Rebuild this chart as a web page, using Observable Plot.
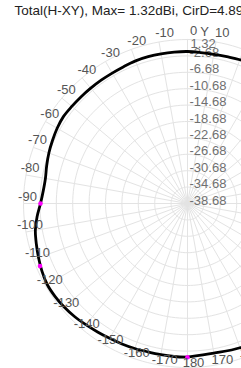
<!DOCTYPE html>
<html><head><meta charset="utf-8">
<script src="https://cdn.jsdelivr.net/npm/d3@7"></script>
<script src="https://cdn.jsdelivr.net/npm/@observablehq/plot@0.6"></script>
<style>html,body{margin:0;padding:0;background:#fff;} svg{display:block;}</style>
</head><body><div id="chart"></div>
<script>
const titleText = "Total(H-XY), Max= 1.32dBi, CirD=4.89";
const axisName = "Y";
// pattern angles (deg, 0 = +Y, negative = counter-clockwise) and gains (dBi)
const angles = [-180,-175,-170,-165,-160,-155,-150,-145,-140,-135,-130,-125,-120,-115,-110,-105,-100,-95,-90,-85,-80,-75,-70,-65,-60,-55,-50,-45,-40,-35,-30,-25,-20,-15,-10,-5,0,5,10,15,20,30,40,50,60,70,80,90,100,110,120,130,140,150,160,170];
const gains  = [-1.19,-1.22,-1.24,-1.22,-1.05,-0.88,-0.71,-0.44,-0.10,0.30,0.59,0.78,0.83,0.47,-0.02,-0.51,-1.00,-1.85,-2.83,-3.36,-3.49,-3.12,-2.70,-2.34,-1.97,-1.73,-1.85,-1.92,-1.97,-1.97,-1.95,-1.85,-1.66,-1.61,-1.61,-1.61,-1.61,-1.73,-1.73,-1.61,-1.36,-1.10,-0.80,-0.50,-0.10,0.40,0.90,1.32,1.10,0.60,0.10,-0.40,-0.80,-1.10,-1.24,-1.61];
const markerAngles = [-90, -113, 180];
const markerGains  = [-2.83, 0.40, -1.19];
const ringValues = [-38.68,-34.68,-30.68,-26.68,-22.68,-18.68,-14.68,-10.68,-6.68,-2.68,1.32];
const ringLabels = ["-38.68","-34.68","-30.68","-26.68","-22.68","-18.68","-14.68","-10.68","-6.68","-2.68","1.32"];
const angleTicks = [-170,-160,-150,-140,-130,-120,-110,-100,-90,-80,-70,-60,-50,-40,-30,-20,-10,0,10,20,30,40,50,60,70,80,90,100,110,120,130,140,150,160,170,180];
const angleLabels = ["-170","-160","-150","-140","-130","-120","-110","-100","-90","-80","-70","-60","-50","-40","-30","-20","-10","0","10","20","30","40","50","60","70","80","90","100","110","120","130","140","150","160","170","180"];

const W = 241, H = 368, CX = 187, CY = 203, R = 164;
const rMin = ringValues[0], rMax = ringValues[ringValues.length - 1];
const norm = v => (v - rMin) / (rMax - rMin);
const polar = (deg, r) => { const t = deg * Math.PI / 180; return {x: r * Math.sin(t), y: r * Math.cos(t)}; };

const curve = angles.map((a, i) => polar(a, norm(gains[i])));
curve.push(curve[0]);
const markers = markerAngles.map((a, i) => polar(a, norm(markerGains[i])));

const rings = [];
ringValues.slice(1).forEach((v, k) => {
  for (let d = 0; d <= 360; d += 2) rings.push({...polar(d, norm(v)), k});
});
const spokes = angleTicks.map(a => ({x1: 0, y1: 0, x2: polar(a, 1).x, y2: polar(a, 1).y}));
const labelR = 166 / R;
const angLab = angleTicks.map((a, i) => ({...polar(a, labelR), t: angleLabels[i]}));
const radLab = ringValues.map((v, i) => ({x: 0, y: norm(v), t: ringLabels[i], top: i === ringValues.length - 1}));

const font = "Liberation Sans, Arial, sans-serif";
const chart = Plot.plot({
  width: W, height: H, margin: 0,
  x: {domain: [-CX / R, (W - CX) / R], range: [0, W], axis: null},
  y: {domain: [-(H - CY) / R, CY / R], range: [H, 0], axis: null},
  style: {fontFamily: font, background: "#fff"},
  marks: [
    Plot.line(rings, {x: "x", y: "y", z: "k", stroke: "#e3e3e3", strokeWidth: 1}),
    Plot.link(spokes, {x1: "x1", y1: "y1", x2: "x2", y2: "y2", stroke: "#e3e3e3", strokeWidth: 1}),
    Plot.text(radLab.filter(d => !d.top), {x: "x", y: "y", text: "t", textAnchor: "start", dx: 2, dy: -3, fontSize: 13, fill: "#707070"}),
    Plot.text(radLab.filter(d => d.top), {x: "x", y: "y", text: "t", textAnchor: "start", dx: 3, dy: 4, fontSize: 13, fill: "#707070"}),
    Plot.line(curve, {x: "x", y: "y", stroke: "#000", strokeWidth: 2.8, curve: "catmull-rom"}),
    Plot.dot(markers, {x: "x", y: "y", r: 2.3, fill: "#ff00ff", stroke: "none"}),
    Plot.text(angLab, {x: "x", y: "y", text: "t", dx: 6, dy: -7, fontSize: 13, fill: "#555"}),
    Plot.text([polar(0, labelR)], {x: "x", y: "y", text: () => axisName, dx: 17, dy: -6, fontSize: 13, fill: "#555"}),
    Plot.text([titleText], {frameAnchor: "top-left", text: d => d, dx: 14, dy: 5, fontSize: 13.5, fill: "#222"})
  ]
});
document.getElementById("chart").appendChild(chart);
</script>
</body></html>
